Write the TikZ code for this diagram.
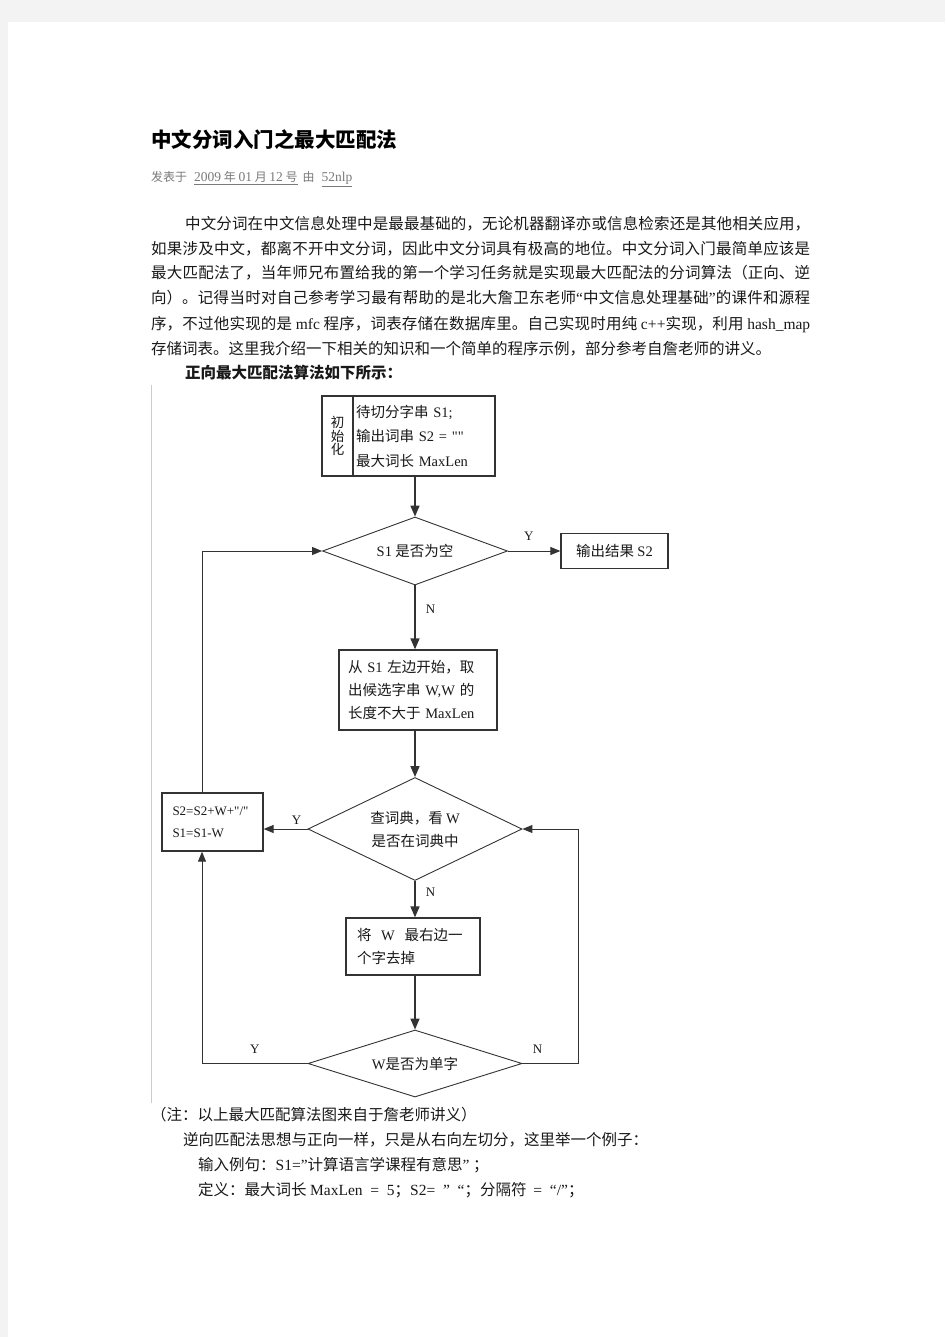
\documentclass[tikz,border=0pt]{standalone}
\usepackage{fontspec}
\setmainfont{Noto Sans CJK SC}
\newfontfamily\enfont{Liberation Serif}
\usetikzlibrary{arrows.meta,shapes.geometric}
\XeTeXlinebreaklocale "zh"
\XeTeXlinebreakskip=0pt plus 2pt
\newcommand{\en}[1]{{\enfont #1}}
\newcommand{\nofill}{\setlength{\parfillskip}{0pt}}
\newcommand{\mlat}[1]{{\enfont\fontsize{13.5}{14}\selectfont #1}}
\definecolor{pagegray}{HTML}{F3F3F3}
\definecolor{linegray}{HTML}{333333}
\definecolor{metagray}{HTML}{7A7A7A}
\definecolor{rulegray}{HTML}{CCCCCC}

\begin{document}
\begin{tikzpicture}[x=1pt,y=-1pt,
  body/.style={anchor=base west,inner sep=0pt,font=\fontsize{15.5}{25}\selectfont,text=black!90},
  jline/.style={body,text width=#1,align=justify,execute at begin node=\nofill},
  box node/.style={draw=linegray,line width=1.3pt,rectangle,inner sep=0pt,text=black!90,
    font=\fontsize{14.5}{23}\selectfont},
  dec node/.style={draw=linegray,line width=0.9pt,diamond,inner sep=0pt,align=center,text=black!90,
    font=\fontsize{14.5}{23}\selectfont},
  flow/.style={-{Triangle[length=11pt,width=9pt]},draw=linegray,line width=1.6pt},
  side/.style={-{Triangle[length=10pt,width=8pt]},draw=linegray,line width=1pt},
  tag/.style={font=\enfont\fontsize{13}{13}\selectfont,inner sep=0pt,text=black!90}]

% page
\fill[pagegray] (0,0) rectangle (945,1337);
\fill[white] (8,22) rectangle (945,1337);
\useasboundingbox (0,0) rectangle (945,1337);

% heading
\node[anchor=base west,inner sep=0pt,font=\bfseries\fontsize{20.5}{24}\selectfont] (title) at (151,148)
  {中文分词入门之最大匹配法};
\node[anchor=base west,inner sep=0pt,font=\fontsize{12}{14}\selectfont,text=metagray] (meta) at (151,181.5)
  {发表于\hspace{7pt}\underline{\mlat{2009} 年 \mlat{01} 月 \mlat{12} 号}\hspace{5pt}由\hspace{7pt}\underline{\mlat{52nlp}}};

% paragraph
\node[jline=625pt] (p1) at (185,230) {中文分词在中文信息处理中是最最基础的，无论机器翻译亦或信息检索还是其他相关应用，};
\node[jline=659pt] (p2) at (151,255) {如果涉及中文，都离不开中文分词，因此中文分词具有极高的地位。中文分词入门最简单应该是};
\node[jline=659pt] (p3) at (151,279) {最大匹配法了，当年师兄布置给我的第一个学习任务就是实现最大匹配法的分词算法（正向、逆};
\node[jline=659pt] (p4) at (151,304) {向）。记得当时对自己参考学习最有帮助的是北大詹卫东老师\en{“}中文信息处理基础\en{”}的课件和源程};
\node[jline=659pt] (p5) at (151,329) {序，不过他实现的是 \en{mfc} 程序，词表存储在数据库里。自己实现时用纯 \en{c++}实现，利用 \en{hash\_map}};
\node[body] (p6) at (151,354) {存储词表。这里我介绍一下相关的知识和一个简单的程序示例，部分参考自詹老师的讲义。};
\node[body,font=\bfseries\fontsize{15.5}{25}\selectfont] (p7) at (185,378) {正向最大匹配法算法如下所示：};

\draw[rulegray,line width=1pt] (151,385) -- (151,1103);

% flow chart
\node[box node,minimum width=31pt,minimum height=80pt,align=center,font=\fontsize{13.5}{13.5}\selectfont]
  (initlbl) at (337.5,436) {初\\始\\化};
\node[box node,minimum width=142pt,minimum height=80pt,text width=136pt,align=left,
  font=\fontsize{14.5}{24.5}\selectfont] (initbody) at (424,436)
  {待切分字串 \en{S1;}\\输出词串 \en{S2 = ""}\\最大词长 \en{MaxLen}};

\node[dec node,minimum width=185pt,minimum height=68pt,aspect=2.7] (dec1) at (415,551) {\en{S1} 是否为空};
\node[box node,minimum width=107pt,minimum height=35pt] (outbox) at (614.5,551) {输出结果 \en{S2}};

\node[box node,minimum width=158pt,minimum height=80pt,text width=140pt,align=left] (takebox) at (418,690)
  {从 \en{S1} 左边开始，取\\出候选字串 \en{W,W} 的\\长度不大于 \en{MaxLen}};

\node[dec node,minimum width=214pt,minimum height=103pt,aspect=2.1] (dec2) at (415,829)
  {查词典，看 \en{W}\\是否在词典中};
\node[box node,minimum width=101pt,minimum height=58pt,text width=80pt,align=left,
  font=\enfont\fontsize{13}{22}\selectfont] (addbox) at (212.5,822) {S2=S2+W+"/"\\S1=S1-W};

\node[box node,minimum width=134pt,minimum height=57pt,text width=112pt,align=left] (cutbox) at (413,946.5)
  {将~~\en{W}~~最右边一\\个字去掉};
\node[dec node,minimum width=214pt,minimum height=67pt,aspect=3.2] (dec3) at (415,1063.5) {\en{W}是否为单字};
\coordinate (nturn) at (578,1063.5);

% arrows
\draw[flow] (initbody.south -| dec1.north) -- (dec1.north);
\draw[side] (dec1.east) -- (outbox.west) node[tag,pos=0.4,above=10pt] {Y};
\draw[flow] (dec1.south) -- (dec1.south |- takebox.north) node[tag,pos=0.38,right=10pt] {N};
\draw[flow] (takebox.south -| dec2.north) -- (dec2.north);
\draw[side] (dec2.west) -- (dec2.west -| addbox.east) node[tag,pos=0.25,above=4pt] {Y};
\draw[side] ([xshift=-10.5pt]addbox.north) |- (dec1.west);
\draw[flow] (dec2.south) -- (dec2.south |- cutbox.north) node[tag,pos=0.3,right=10pt] {N};
\draw[flow] (cutbox.south -| dec3.north) -- (dec3.north);
\draw[side] (dec3.west) -| ([xshift=-10.5pt]addbox.south) node[tag,pos=0.25,above=10pt] {Y};
\draw[side] (dec3.east) -- (nturn) node[tag,pos=0.27,above=10pt] {N} |- (dec2.east);

% note below
\node[body] (note) at (151,1120) {（注：以上最大匹配算法图来自于詹老师讲义）};
\node[body] (rev) at (183,1145) {逆向匹配法思想与正向一样，只是从右向左切分，这里举一个例子：};
\node[body] (ex1) at (198,1170) {输入例句：\en{S1=”}计算语言学课程有意思\en{”} ；};
\node[body] (ex2) at (198,1195) {定义：最大词长 \en{MaxLen\ \ =\ \ 5}；\en{S2=\ \ ”\ \ “}；分隔符\ \ \en{=\ \ “/”}；};

\end{tikzpicture}
\end{document}
